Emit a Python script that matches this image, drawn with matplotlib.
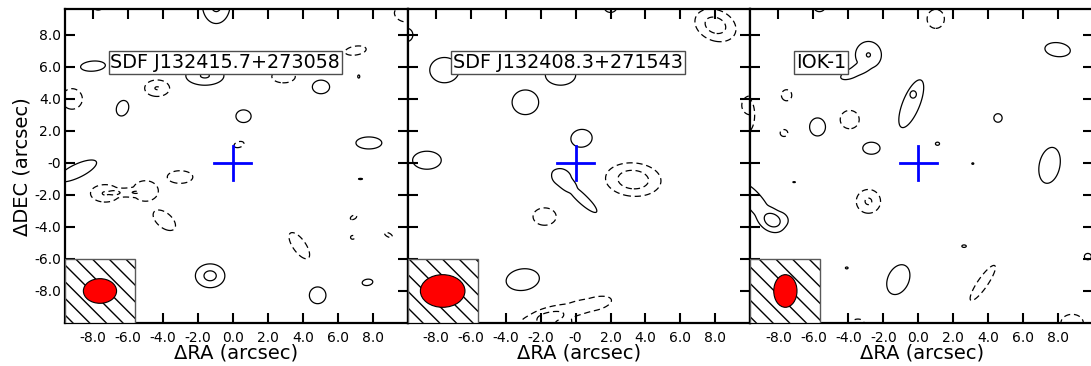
import numpy as np
import matplotlib
matplotlib.use("Agg")
import matplotlib.pyplot as plt
from matplotlib.patches import Rectangle, Ellipse

# Source names shown in each panel
NAMES = ["SDF J132415.7+273058", "SDF J132408.3+271543", "IOK-1"]

# Emission / noise components per map: (dRA, dDEC, semi-axis a, semi-axis b, angle deg, peak in sigma)
# the 2-sigma contour of each isolated component is the ellipse (a, b)
COMP_1 = [
    (-0.95, 9.9, 0.8, 1.2, 0, 3.2),
    (-7.7, 9.8, 0.3, 0.25, 0, 2.7),
    (9.75, 9.25, 0.55, 0.4, -30, -2.7),
    (-8.0, 6.05, 0.72, 0.32, 5, 2.7),
    (-1.6, 5.45, 1.1, 0.6, 0, 3.07),
    (2.9, 5.4, 0.68, 0.4, 0, -2.7),
    (7.02, 7.02, 0.62, 0.28, 10, -2.7),
    (7.2, 5.4, 0.06, 0.1, 0, 2.7),
    (5.04, 4.75, 0.5, 0.43, 0, 2.7),
    (-4.33, 4.67, 0.72, 0.52, 0, -3.04),
    (-9.2, 4.0, 0.6, 0.65, 0, -2.7),
    (-6.31, 3.42, 0.35, 0.5, -15, 2.7),
    (0.61, 2.92, 0.44, 0.4, 0, 2.7),
    (7.78, 1.25, 0.75, 0.38, 0, 2.7),
    (0.35, 1.15, 0.3, 0.18, 20, -2.7),
    (-8.9, -0.5, 1.25, 0.42, 28, 2.7),
    (-3.02, -0.88, 0.74, 0.4, 0, -2.7),
    (7.3, -1.0, 0.12, 0.04, 0, 2.7),
    (-7.3, -1.9, 0.85, 0.55, 0, -3.05),
    (-6.1, -1.85, 0.6, 0.2, 0, -2.4),
    (-5.0, -1.75, 0.75, 0.65, 0, -2.6),
    (-3.92, -3.58, 0.8, 0.45, -45, -2.7),
    (3.8, -5.17, 0.95, 0.38, -58, -2.7),
    (6.9, -3.4, 0.2, 0.12, 30, -2.7),
    (6.85, -4.65, 0.12, 0.12, 0, -2.7),
    (8.9, -4.5, 0.25, 0.12, -30, -2.7),
    (-1.3, -7.05, 0.85, 0.75, 0, 3.26),
    (4.85, -8.27, 0.48, 0.53, 0, 2.7),
    (7.7, -7.46, 0.31, 0.2, 10, 2.7),
]

COMP_2 = [
    (2.0, 9.7, 0.35, 0.3, 0, 2.7),
    (8.0, 8.6, 1.25, 0.95, -30, -3.43),
    (-9.65, 8.0, 0.35, 0.42, 0, 2.7),
    (-7.5, 5.8, 0.85, 0.8, 0, 2.7),
    (-0.86, 5.5, 0.88, 0.65, 0, 2.7),
    (-2.87, 3.79, 0.77, 0.78, 0, 2.7),
    (10.0, 3.6, 0.5, 0.6, 0, -2.7),
    (0.34, 1.54, 0.62, 0.56, 15, 2.7),
    (-8.5, 0.17, 0.83, 0.57, 0, 2.7),
    (-0.8, -0.9, 0.62, 0.52, -40, 2.3),
    (0.35, -2.2, 1.25, 0.3, -46, 2.25),
    (3.3, -1.04, 1.6, 1.05, -5, -3.57),
    (-1.77, -3.35, 0.67, 0.55, 0, -2.7),
    (-3.02, -7.29, 0.97, 0.68, 10, 2.7),
    (1.1, -8.8, 1.0, 0.42, 15, -2.45),
    (-0.7, -9.2, 1.1, 0.35, 12, -2.4),
    (-1.7, -10.0, 1.5, 0.7, 5, -3.2),
]

COMP_3 = [
    (-5.65, 9.7, 0.3, 0.25, 0, 2.7),
    (1.0, 9.0, 0.5, 0.6, 0, -2.7),
    (-2.85, 6.75, 0.75, 0.85, 0, 3.03),
    (-3.8, 5.6, 0.7, 0.3, 25, 2.45),
    (7.97, 7.08, 0.74, 0.44, -8, 2.7),
    (-7.53, 4.23, 0.3, 0.35, 0, -2.7),
    (-0.4, 3.7, 1.6, 0.5, 70, 2.7),
    (-0.3, 4.3, 0.15, 0.18, 0, 2.6),
    (-9.8, 3.0, 0.45, 1.1, 0, -2.7),
    (-5.76, 2.25, 0.46, 0.57, 0, 2.7),
    (-3.92, 2.71, 0.55, 0.58, 0, -2.7),
    (-7.68, 1.87, 0.22, 0.22, 0, -2.7),
    (-2.68, 0.92, 0.5, 0.38, 0, 2.7),
    (1.1, 1.2, 0.12, 0.1, 0, 2.7),
    (3.12, -0.04, 0.06, 0.05, 0, 2.7),
    (-7.1, -1.2, 0.08, 0.03, 0, 2.7),
    (7.51, -0.15, 1.15, 0.6, 80, 2.7),
    (-2.85, -2.4, 0.7, 0.75, 0, -3.1),
    (-8.15, -3.6, 0.72, 0.6, 0, 2.9),
    (-9.3, -2.5, 1.5, 0.5, -55, 2.45),
    (2.62, -5.2, 0.13, 0.08, 0, 2.7),
    (-1.14, -7.29, 0.98, 0.62, 70, 2.7),
    (3.69, -7.5, 1.3, 0.3, 58, -2.7),
    (-4.09, -6.56, 0.08, 0.06, 0, 2.7),
    (-3.45, -10.0, 0.35, 0.25, 0, -2.7),
    (8.8, -10.0, 0.65, 0.55, 0, -2.7),
    (9.7, -5.85, 0.2, 0.2, 0, 2.7),
    (4.56, 2.81, 0.24, 0.27, 0, 2.7),
]

# Synthesized beam (FWHM, arcsec) for each map
BEAM_W = [1.9, 2.55, 1.33]
BEAM_H = [1.54, 2.04, 2.04]

LEVELS_POS = [2, 3]
LEVELS_NEG = [-3, -2]

TICKS = [-8, -6, -4, -2, 0, 2, 4, 6, 8]
XLABELS = [
    ["-8.0", "-6.0", "-4.0", "-2.0", "0.0", "2.0", "4.0", "6.0", "8.0"],
    ["-8.0", "-6.0", "-4.0", "-2.0", "-0", "2.0", "4.0", "6.0", "8.0"],
    ["-8.0", "-6.0", "-4.0", "-2.0", "0.0", "2.0", "4.0", "6.0", "8.0"],
]
YLABELS = ["-8.0", "-6.0", "-4.0", "-2.0", "-0", "2.0", "4.0", "6.0", "8.0"]


def component(X, Y, x0, y0, a, b, ang, p):
    """Gaussian component, tapered to zero well outside its 2-sigma ellipse (a, b)."""
    t = np.deg2rad(ang)
    dx, dy = X - x0, Y - y0
    u = dx * np.cos(t) + dy * np.sin(t)
    v = -dx * np.sin(t) + dy * np.cos(t)
    d2 = (u / a) ** 2 + (v / b) ** 2
    taper = np.exp(-(d2 / 3.2) ** 4)
    return p * np.exp(-np.log(p / 2.0) * d2) * taper


def sky_map(comps, X, Y, m=2.0):
    pos = np.zeros_like(X)
    neg = np.zeros_like(X)
    for x0, y0, a, b, ang, peak in comps:
        f = component(X, Y, x0, y0, a, b, ang, abs(peak))
        if peak > 0:
            pos += f ** m
        else:
            neg += f ** m
    return pos ** (1.0 / m) - neg ** (1.0 / m)


g = np.arange(-11.0, 11.0001, 0.03)
X, Y = np.meshgrid(g, g)

fig = plt.figure(figsize=(10.91, 3.66), dpi=100)
W, H = 1091.0, 366.0
lefts = [65.0, 407.7, 750.4]
width = 342.7
bottom = 1 - 323.0 / H
height = (323.0 - 9.3) / H

for i, comps in enumerate([COMP_1, COMP_2, COMP_3]):
    ax = fig.add_axes([lefts[i] / W, bottom, width / W, height])
    Z = sky_map(comps, X, Y)
    ax.contour(X, Y, Z, levels=LEVELS_POS, colors="black",
               linewidths=0.9, linestyles="solid", zorder=2)
    ax.contour(X, Y, Z, levels=LEVELS_NEG, colors="black",
               linewidths=0.9, linestyles=[(0, (5, 3))], zorder=2)

    # source position
    ax.plot([-1.05, 1.05], [0, 0], color="#0000ff", lw=2, zorder=4)
    ax.plot([0, 0], [-1.05, 1.05], color="#0000ff", lw=2, zorder=4)

    # beam inset
    ax.add_patch(Rectangle((-9.6, -10.0), 4.0, 4.0, facecolor="white",
                           edgecolor="black", hatch="\\\\", lw=0, zorder=5))
    ax.add_patch(Rectangle((-9.6, -10.0), 4.0, 4.0, facecolor="none",
                           edgecolor="0.35", lw=1, zorder=5.5))
    ax.add_patch(Ellipse((-7.6, -8.0), BEAM_W[i], BEAM_H[i], facecolor="red",
                         edgecolor="black", lw=0.8, zorder=6))

    ax.text(-7.0, 6.3, NAMES[i], fontsize=13.8, ha="left", va="center", zorder=7,
            bbox=dict(boxstyle="square,pad=0.1", facecolor="white",
                      edgecolor="0.3", lw=1))

    ax.set_xlim(-9.6, 10.0)
    ax.set_ylim(-10.0, 9.6)
    ax.set_xticks(TICKS)
    ax.set_xticklabels(XLABELS[i])
    ax.set_yticks(TICKS)
    if i == 0:
        ax.set_yticklabels(YLABELS)
        ax.set_ylabel("\u0394DEC (arcsec)", fontsize=14, labelpad=2)
    else:
        ax.set_yticklabels([])
    ax.set_xlabel("\u0394RA (arcsec)", fontsize=14, labelpad=-1.5)
    ax.tick_params(direction="in", length=7.2, width=1.5, top=True,
                   right=True, labelsize=10)
    ax.tick_params(axis="x", pad=6)
    ax.tick_params(axis="y", pad=3)
    for s in ax.spines.values():
        s.set_linewidth(1.6)

fig.savefig("out.png", dpi=100)
